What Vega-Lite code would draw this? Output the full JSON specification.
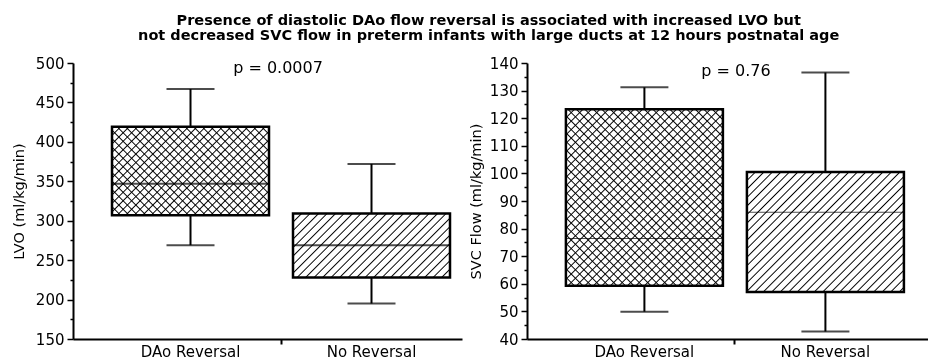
{
  "$schema": "https://vega.github.io/schema/vega-lite/v6.json",
  "padding": {"left": 11, "top": 12, "right": 0, "bottom": 0},
  "background": "white",
  "config": {
    "view": {"stroke": null},
    "font": "DejaVu Sans",
    "concat": {"spacing": 6},
    "axis": {"domainColor": "black", "domainWidth": 2, "tickColor": "black", "labelColor": "black", "titleColor": "black", "labelFont": "DejaVu Sans", "titleFont": "DejaVu Sans", "grid": false, "titleFontWeight": "normal", "labelOverlap": false, "labelBound": false, "labelFlush": false}
  },
  "params": [
    {"name": "hatch", "value": [
      {"offset": 0, "color": "#fff"},
      {"offset": 0.021, "color": "#fff"}, {"offset": 0.025, "color": "#000"}, {"offset": 0.029, "color": "#fff"},
      {"offset": 0.046, "color": "#fff"}, {"offset": 0.05, "color": "#000"}, {"offset": 0.054, "color": "#fff"},
      {"offset": 0.071, "color": "#fff"}, {"offset": 0.075, "color": "#000"}, {"offset": 0.079, "color": "#fff"},
      {"offset": 0.096, "color": "#fff"}, {"offset": 0.1, "color": "#000"}, {"offset": 0.104, "color": "#fff"},
      {"offset": 0.121, "color": "#fff"}, {"offset": 0.125, "color": "#000"}, {"offset": 0.129, "color": "#fff"},
      {"offset": 0.146, "color": "#fff"}, {"offset": 0.15, "color": "#000"}, {"offset": 0.154, "color": "#fff"},
      {"offset": 0.171, "color": "#fff"}, {"offset": 0.175, "color": "#000"}, {"offset": 0.179, "color": "#fff"},
      {"offset": 0.196, "color": "#fff"}, {"offset": 0.2, "color": "#000"}, {"offset": 0.204, "color": "#fff"},
      {"offset": 0.221, "color": "#fff"}, {"offset": 0.225, "color": "#000"}, {"offset": 0.229, "color": "#fff"},
      {"offset": 0.246, "color": "#fff"}, {"offset": 0.25, "color": "#000"}, {"offset": 0.254, "color": "#fff"},
      {"offset": 0.271, "color": "#fff"}, {"offset": 0.275, "color": "#000"}, {"offset": 0.279, "color": "#fff"},
      {"offset": 0.296, "color": "#fff"}, {"offset": 0.3, "color": "#000"}, {"offset": 0.304, "color": "#fff"},
      {"offset": 0.321, "color": "#fff"}, {"offset": 0.325, "color": "#000"}, {"offset": 0.329, "color": "#fff"},
      {"offset": 0.346, "color": "#fff"}, {"offset": 0.35, "color": "#000"}, {"offset": 0.354, "color": "#fff"},
      {"offset": 0.371, "color": "#fff"}, {"offset": 0.375, "color": "#000"}, {"offset": 0.379, "color": "#fff"},
      {"offset": 0.396, "color": "#fff"}, {"offset": 0.4, "color": "#000"}, {"offset": 0.404, "color": "#fff"},
      {"offset": 0.421, "color": "#fff"}, {"offset": 0.425, "color": "#000"}, {"offset": 0.429, "color": "#fff"},
      {"offset": 0.446, "color": "#fff"}, {"offset": 0.45, "color": "#000"}, {"offset": 0.454, "color": "#fff"},
      {"offset": 0.471, "color": "#fff"}, {"offset": 0.475, "color": "#000"}, {"offset": 0.479, "color": "#fff"},
      {"offset": 0.496, "color": "#fff"}, {"offset": 0.5, "color": "#000"}, {"offset": 0.504, "color": "#fff"},
      {"offset": 0.521, "color": "#fff"}, {"offset": 0.525, "color": "#000"}, {"offset": 0.529, "color": "#fff"},
      {"offset": 0.546, "color": "#fff"}, {"offset": 0.55, "color": "#000"}, {"offset": 0.554, "color": "#fff"},
      {"offset": 0.571, "color": "#fff"}, {"offset": 0.575, "color": "#000"}, {"offset": 0.579, "color": "#fff"},
      {"offset": 0.596, "color": "#fff"}, {"offset": 0.6, "color": "#000"}, {"offset": 0.604, "color": "#fff"},
      {"offset": 0.621, "color": "#fff"}, {"offset": 0.625, "color": "#000"}, {"offset": 0.629, "color": "#fff"},
      {"offset": 0.646, "color": "#fff"}, {"offset": 0.65, "color": "#000"}, {"offset": 0.654, "color": "#fff"},
      {"offset": 0.671, "color": "#fff"}, {"offset": 0.675, "color": "#000"}, {"offset": 0.679, "color": "#fff"},
      {"offset": 0.696, "color": "#fff"}, {"offset": 0.7, "color": "#000"}, {"offset": 0.704, "color": "#fff"},
      {"offset": 0.721, "color": "#fff"}, {"offset": 0.725, "color": "#000"}, {"offset": 0.729, "color": "#fff"},
      {"offset": 0.746, "color": "#fff"}, {"offset": 0.75, "color": "#000"}, {"offset": 0.754, "color": "#fff"},
      {"offset": 0.771, "color": "#fff"}, {"offset": 0.775, "color": "#000"}, {"offset": 0.779, "color": "#fff"},
      {"offset": 0.796, "color": "#fff"}, {"offset": 0.8, "color": "#000"}, {"offset": 0.804, "color": "#fff"},
      {"offset": 0.821, "color": "#fff"}, {"offset": 0.825, "color": "#000"}, {"offset": 0.829, "color": "#fff"},
      {"offset": 0.846, "color": "#fff"}, {"offset": 0.85, "color": "#000"}, {"offset": 0.854, "color": "#fff"},
      {"offset": 0.871, "color": "#fff"}, {"offset": 0.875, "color": "#000"}, {"offset": 0.879, "color": "#fff"},
      {"offset": 0.896, "color": "#fff"}, {"offset": 0.9, "color": "#000"}, {"offset": 0.904, "color": "#fff"},
      {"offset": 0.921, "color": "#fff"}, {"offset": 0.925, "color": "#000"}, {"offset": 0.929, "color": "#fff"},
      {"offset": 0.946, "color": "#fff"}, {"offset": 0.95, "color": "#000"}, {"offset": 0.954, "color": "#fff"},
      {"offset": 0.971, "color": "#fff"}, {"offset": 0.975, "color": "#000"}, {"offset": 0.979, "color": "#fff"},
      {"offset": 1, "color": "#fff"}
    ]}
  ],
  "title": {
    "text": ["Presence of diastolic DAo flow reversal is associated with increased LVO but", "not decreased SVC flow in preterm infants with large ducts at 12 hours postnatal age"],
    "fontSize": 14.5, "fontWeight": "bold", "font": "DejaVu Sans", "color": "black", "anchor": "middle", "lineHeight": 15, "offset": 13, "dx": 19
  },
  "datasets": {
    "lvo": [
      {"group": "DAo Reversal", "min": 269, "q1": 307, "median": 347, "q3": 419, "max": 467},
      {"group": "No Reversal", "min": 195, "q1": 228, "median": 269, "q3": 309, "max": 372}
    ],
    "svc": [
      {"group": "DAo Reversal", "min": 49.9, "q1": 59.3, "median": 76.4, "q3": 123.2, "max": 131.2},
      {"group": "No Reversal", "min": 42.7, "q1": 57, "median": 85.9, "q3": 100.5, "max": 136.6}
    ],
    "plvo": [{"group": "No Reversal", "label": "p = 0.0007"}],
    "psvc": [{"group": "No Reversal", "label": "p = 0.76"}]
  },
  "hconcat": [
    {
      "width": 389, "height": 276,
      "data": {"name": "lvo"},
      "encoding": {
        "x": {"field": "group", "type": "nominal", "sort": null,
          "scale": {"type": "band", "domain": ["DAo Reversal", "No Reversal"], "paddingInner": 0, "paddingOuter": 0.0746, "align": 1},
          "axis": {"title": null, "bandPosition": 0, "labelAngle": 0, "tickSize": 5, "tickWidth": 2, "labelFontSize": 15, "labelPadding": 0,
            "tickOpacity": {"condition": {"test": "datum.value === 'No Reversal'", "value": 1}, "value": 0}}}
      },
      "layer": [
        {
          "mark": {"type": "rule", "color": "black", "strokeWidth": 2},
          "encoding": {
            "y": {"field": "min", "type": "quantitative", "scale": {"domain": [150, 500], "nice": false, "zero": false},
              "axis": {"title": "LVO (ml/kg/min)", "values": [150, 175, 200, 225, 250, 275, 300, 325, 350, 375, 400, 425, 450, 475, 500], "tickCount": 100,
                "labelExpr": "datum.value % 50 === 0 ? datum.label : ''", "labelFontSize": 15, "titleFontSize": 14.5, "titlePadding": 9, "labelPadding": 3, "tickWidth": 1.5,
                "tickSize": {"condition": {"test": "datum.value % 50 === 0", "value": 6}, "value": 3}}},
            "y2": {"field": "max"}
          }
        },
        {"mark": {"type": "tick", "color": "black", "size": 48, "thickness": 2}, "encoding": {"y": {"field": "min", "type": "quantitative"}}},
        {"mark": {"type": "tick", "color": "black", "size": 48, "thickness": 2}, "encoding": {"y": {"field": "max", "type": "quantitative"}}},
        {
          "transform": [{"filter": "datum.group === 'DAo Reversal'"}],
          "mark": {"type": "bar", "width": 157, "fill": {"expr": "{gradient:'linear',x1:0,y1:0,x2:1.645,y2:0.925,stops:hatch}"}},
          "encoding": {"y": {"field": "q3", "type": "quantitative"}, "y2": {"field": "q1"}}
        },
        {
          "transform": [{"filter": "datum.group === 'DAo Reversal'"}],
          "mark": {"type": "bar", "width": 157, "blend": "multiply", "stroke": "black", "strokeWidth": 2.5, "fill": {"expr": "{gradient:'linear',x1:0,y1:1,x2:1.645,y2:0.075,stops:hatch}"}},
          "encoding": {"y": {"field": "q3", "type": "quantitative"}, "y2": {"field": "q1"}}
        },
        {
          "transform": [{"filter": "datum.group === 'No Reversal'"}],
          "mark": {"type": "bar", "width": 157, "stroke": "black", "strokeWidth": 2.5, "fill": {"expr": "{gradient:'linear',x1:0,y1:0,x2:1.858,y2:0.756,stops:hatch}"}},
          "encoding": {"y": {"field": "q3", "type": "quantitative"}, "y2": {"field": "q1"}}
        },
        {"mark": {"type": "tick", "color": "black", "size": 157, "thickness": 2}, "encoding": {"y": {"field": "median", "type": "quantitative"}}},
        {
          "data": {"name": "plvo"},
          "mark": {"type": "text", "fontSize": 16, "color": "black", "baseline": "top", "align": "center", "dx": -3, "dy": -3},
          "encoding": {"x": {"field": "group", "type": "nominal", "bandPosition": 0}, "y": {"datum": 500, "type": "quantitative"}, "text": {"field": "label"}}
        }
      ]
    },
    {
      "width": 401, "height": 276,
      "data": {"name": "svc"},
      "encoding": {
        "x": {"field": "group", "type": "nominal", "sort": null,
          "scale": {"type": "band", "domain": ["DAo Reversal", "No Reversal"], "paddingInner": 0, "paddingOuter": 0.1077, "align": 0.69},
          "axis": {"title": null, "bandPosition": 0, "labelAngle": 0, "tickSize": 5, "tickWidth": 2, "labelFontSize": 15, "labelPadding": 0,
            "tickOpacity": {"condition": {"test": "datum.value === 'No Reversal'", "value": 1}, "value": 0}}}
      },
      "layer": [
        {
          "mark": {"type": "rule", "color": "black", "strokeWidth": 2},
          "encoding": {
            "y": {"field": "min", "type": "quantitative", "scale": {"domain": [40, 140], "nice": false, "zero": false},
              "axis": {"title": "SVC Flow (ml/kg/min)", "values": [40, 45, 50, 55, 60, 65, 70, 75, 80, 85, 90, 95, 100, 105, 110, 115, 120, 125, 130, 135, 140], "tickCount": 100,
                "labelExpr": "datum.value % 10 === 0 ? datum.label : ''", "labelFontSize": 15, "titleFontSize": 14.5, "titlePadding": 6, "labelPadding": 3, "tickWidth": 1.5,
                "tickSize": {"condition": {"test": "datum.value % 10 === 0", "value": 6}, "value": 3}}},
            "y2": {"field": "max"}
          }
        },
        {"mark": {"type": "tick", "color": "black", "size": 48, "thickness": 2}, "encoding": {"y": {"field": "min", "type": "quantitative"}}},
        {"mark": {"type": "tick", "color": "black", "size": 48, "thickness": 2}, "encoding": {"y": {"field": "max", "type": "quantitative"}}},
        {
          "transform": [{"filter": "datum.group === 'DAo Reversal'"}],
          "mark": {"type": "bar", "width": 157, "fill": {"expr": "{gradient:'linear',x1:0,y1:0,x2:0.957,y2:1.0755,stops:hatch}"}},
          "encoding": {"y": {"field": "q3", "type": "quantitative"}, "y2": {"field": "q1"}}
        },
        {
          "transform": [{"filter": "datum.group === 'DAo Reversal'"}],
          "mark": {"type": "bar", "width": 157, "blend": "multiply", "stroke": "black", "strokeWidth": 2.5, "fill": {"expr": "{gradient:'linear',x1:0,y1:1,x2:0.957,y2:-0.0755,stops:hatch}"}},
          "encoding": {"y": {"field": "q3", "type": "quantitative"}, "y2": {"field": "q1"}}
        },
        {
          "transform": [{"filter": "datum.group === 'No Reversal'"}],
          "mark": {"type": "bar", "width": 157, "stroke": "black", "strokeWidth": 2.5, "fill": {"expr": "{gradient:'linear',x1:0,y1:0,x2:1.369,y2:1.044,stops:hatch}"}},
          "encoding": {"y": {"field": "q3", "type": "quantitative"}, "y2": {"field": "q1"}}
        },
        {"mark": {"type": "tick", "color": "black", "size": 157, "thickness": 1}, "encoding": {"y": {"field": "median", "type": "quantitative"}}},
        {
          "data": {"name": "psvc"},
          "mark": {"type": "text", "fontSize": 16, "color": "black", "baseline": "top", "align": "center", "dx": 1, "dy": 0},
          "encoding": {"x": {"field": "group", "type": "nominal", "bandPosition": 0}, "y": {"datum": 140, "type": "quantitative"}, "text": {"field": "label"}}
        }
      ]
    }
  ]
}
